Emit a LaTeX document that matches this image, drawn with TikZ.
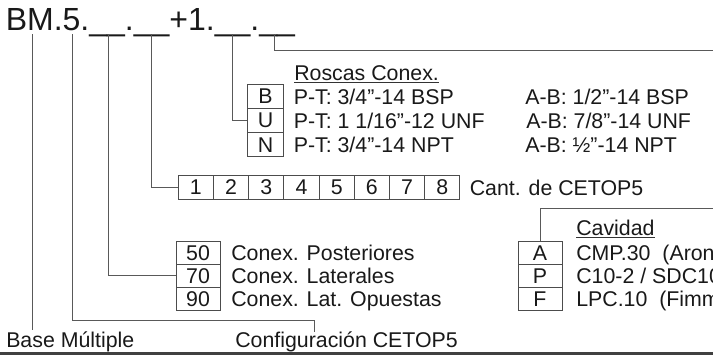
\documentclass[tikz,border=0pt]{standalone}
\usepackage{fontspec}
\setmainfont{Liberation Sans}
\newcommand\smallfnt{\fontsize{16}{19}\selectfont}
\newcommand\bigfnt{\fontsize{24}{28}\selectfont}
\begin{document}
\begin{tikzpicture}[x=0.75pt,y=-0.75pt,
  lbl/.style={font=\smallfnt, anchor=base west, inner sep=0pt, text=black!90},
  cell/.style={draw=black!70, line width=0.7pt, font=\smallfnt, inner sep=0pt, text=black!90, minimum height=#1*0.75pt},
  cellS/.style={cell=24.3, minimum width=35.4*0.75pt},
  cellW/.style={cell=23, minimum width=44*0.75pt},
  link/.style={draw=black!65, line width=0.75pt},
  uline/.style={draw=black!80, line width=0.75pt}]
\useasboundingbox (0,0) rectangle (713,358);
\clip (0,0) rectangle (713,358);

% title
\node[anchor=base west, inner sep=0pt, font=\bigfnt, text=black!90] (title) at (5.5,30.7) {BM.5.\_\_.\_\_+1.\_\_.\_\_};

% rosca cells
\node[cellS] (cB) at (265.5,96.2) {B};
\node[cellS] (cU) at (265.5,120.5) {U};
\node[cellS] (cN) at (265.5,144.7) {N};
\node[lbl] (rosc) at (294,80) {Roscas Conex.};
\draw[uline] ([yshift=-2pt]rosc.base west) -- ([yshift=-2pt]rosc.base east);
\node[lbl] (pt1) at (293.5,104) {P-T: 3/4”-14 BSP};
\node[lbl] (pt2) at (293.5,128.5) {P-T: 1 1/16”-12 UNF};
\node[lbl] (pt3) at (293.5,152.5) {P-T: 3/4”-14 NPT};
\node[lbl] (ab1) at (525,104) {A-B: 1/2”-14 BSP};
\node[lbl] (ab2) at (526,128.5) {A-B: 7/8”-14 UNF};
\node[lbl] (ab3) at (525,152.5) {A-B: ½”-14 NPT};

% cantidad cells
\node[cellS, minimum width=35.2*0.75pt] (c1) at (195.9,187.2) {1};
\node[cellS, minimum width=35.2*0.75pt] (c2) at (231.1,187.2) {2};
\node[cellS, minimum width=35.2*0.75pt] (c3) at (266.3,187.2) {3};
\node[cellS, minimum width=35.2*0.75pt] (c4) at (301.5,187.2) {4};
\node[cellS, minimum width=35.2*0.75pt] (c5) at (336.7,187.2) {5};
\node[cellS, minimum width=35.2*0.75pt] (c6) at (371.9,187.2) {6};
\node[cellS, minimum width=35.2*0.75pt] (c7) at (407.1,187.2) {7};
\node[cellS, minimum width=35.2*0.75pt] (c8) at (442.3,187.2) {8};
\node[lbl] (cant) at (469.5,195.5) {Cant. de CETOP5};

% conexion cells
\node[cellW] (c50) at (198,252.7) {50};
\node[cellW] (c70) at (198,275.8) {70};
\node[cellW] (c90) at (198,298.7) {90};
\node[lbl] (cx1) at (231,260.5) {Conex. Posteriores};
\node[lbl] (cx2) at (231,283.5) {Conex. Laterales};
\node[lbl] (cx3) at (231,306) {Conex. Lat. Opuestas};

% cavidad cells
\node[cellW] (cA) at (540,252.7) {A};
\node[cellW] (cP) at (540,275.8) {P};
\node[cellW] (cF) at (540,298.7) {F};
\node[lbl] (cav) at (576,235) {Cavidad};
\draw[uline] ([yshift=-2pt]cav.base west) -- ([yshift=-2pt]cav.base east);
\node[lbl] (cv1) at (576,260.5) {CMP.30\ \ (Aron)};
\node[lbl] (cv2) at (576,283.5) {C10-2 / SDC10};
\node[lbl] (cv3) at (576,306) {LPC.10\ \ (Fimm};

% bottom labels
\node[lbl] (base) at (6,347.3) {Base Múltiple};
\node[lbl] (conf) at (235,347.3) {Configuración CETOP5};

% connector coordinates
\coordinate (t1) at (32.5,34);
\coordinate (t2) at (72.7,34);
\coordinate (t3) at (108.3,34);
\coordinate (t4) at (151.7,34);
\coordinate (t5) at (232.3,34);
\coordinate (t6) at (274.5,34);
\coordinate (e1) at (32.5,329.5);
\coordinate (e2a) at (314.3,320);
\coordinate (e2b) at (314.3,331.7);
\coordinate (e6) at (713,50);
\coordinate (e7) at (713,208.3);

\draw[link] (t1) -- (e1);
\draw[link] (t2) |- (e2a) -- (e2b);
\draw[link] (t3) |- (c70.west);
\draw[link] (t4) |- (c1.west);
\draw[link] (t5) |- (cU.west);
\draw[link] (t6) |- (e6);
\draw[link] (cA.north) |- (e7);

% bottom rule
\draw[black!75, line width=1.6pt] (0,353.5) -- (713,353.5);
\end{tikzpicture}
\end{document}
